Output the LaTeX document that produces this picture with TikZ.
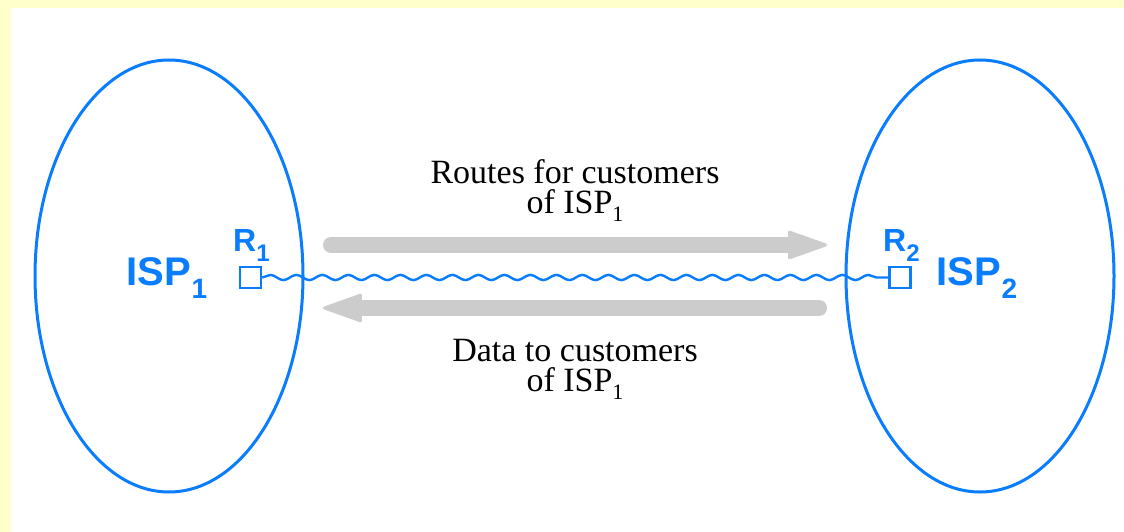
\documentclass[tikz,border=0pt]{standalone}
\usepackage{fontspec}
\setmainfont{Liberation Serif}
\setsansfont{Liberation Sans}
\usetikzlibrary{shapes.geometric,arrows.meta,decorations.pathmorphing}
\definecolor{ispblue}{RGB}{10,125,255}
\definecolor{bgyellow}{RGB}{255,255,204}
\definecolor{arrowgray}{RGB}{204,204,204}
\newcommand{\mysub}[3]{\raisebox{-#2}{\fontsize{#1}{#1}\selectfont #3}}
\begin{document}
\begin{tikzpicture}[x=1pt,y=-1pt,
  ispell/.style={draw=ispblue, line width=3pt, ellipse, inner sep=0pt, minimum width=268pt, minimum height=432pt},
  router/.style={draw=ispblue, line width=2.5pt, rectangle, inner sep=0pt, minimum size=21pt},
  isplabel/.style={text=ispblue, font=\sffamily\bfseries\fontsize{40}{40}\selectfont, inner sep=0pt, anchor=base west},
  rlabel/.style={text=ispblue, font=\sffamily\bfseries\fontsize{32}{32}\selectfont, inner sep=0pt, anchor=base west},
  caption/.style={font=\fontsize{34}{29.5}\selectfont, align=center, inner sep=0pt, anchor=base},
  bigarrow/.style={draw=arrowgray, line width=16pt, line cap=round, -{Triangle[length=42pt,width=29pt,line width=3pt,round]}},
  wave/.style={draw=ispblue, line width=2.4pt, decorate, decoration={snake, segment length=26pt, amplitude=2.6pt}}
]
\useasboundingbox (0,0) rectangle (1124,532);
\fill[bgyellow] (0,0) rectangle (1124,532);
\fill[white] (11,8) rectangle (1124,532);

\node[ispell] (isp1) at (169,276) {};
\node[ispell] (isp2) at (980,276) {};
\node[router] (r1) at (250.5,277.5) {};
\node[router] (r2) at (900,277.5) {};
\draw[wave] (r1.east) -- (r2.west);

\node[isplabel] (isp1lab) at (126,285) {ISP\kern1pt\mysub{28pt}{13pt}{1}};
\node[isplabel] (isp2lab) at (936,285) {ISP\kern1pt\mysub{28pt}{13pt}{2}};
\node[rlabel] (r1lab) at (233,251) {R\mysub{24pt}{10pt}{1}};
\node[rlabel] (r2lab) at (883,251) {R\mysub{24pt}{10pt}{2}};

\node[caption] (routes) at (575,213) {Routes for customers\\of ISP\mysub{22pt}{8pt}{1}};
\node[caption] (data) at (575,391) {Data to customers\\of ISP\mysub{22pt}{8pt}{1}};

\coordinate (upstart) at (331,245);
\coordinate (upend) at (827,245);
\draw[bigarrow] (upstart) -- (upend);
\coordinate (lowstart) at (819,308);
\coordinate (lowend) at (323,308);
\draw[bigarrow] (lowstart) -- (lowend);
\end{tikzpicture}
\end{document}
